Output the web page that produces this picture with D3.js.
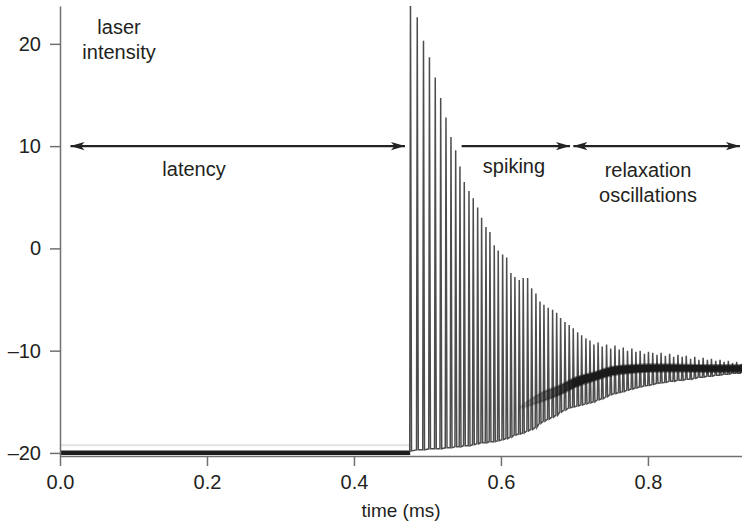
<!DOCTYPE html>
<html>
<head>
<meta charset="utf-8">
<script src="https://d3js.org/d3.v7.min.js"></script>
<style>
  body { margin: 0; background: #fff; }
  svg { font-family: "Liberation Sans", Arial, Helvetica, sans-serif; }
  .axis path, .axis line { stroke: #707070; stroke-width: 1.5; }
  .axis text { font-size: 20px; fill: #231f20; }
  .lbl { font-size: 20px; fill: #231f20; }
</style>
</head>
<body>
<svg id="chart" width="742" height="527"></svg>
<script>
// time axis (ms) and intensity ticks
var xTicks = [0.0, 0.2, 0.4, 0.6, 0.8];
var yTicks = [20, 10, 0, -10, -20];

// flat noisy floor before the laser switches on
var baseT = [0.0, 0.4765];
var baseHi = [-19.75, -19.75];
var baseLo = [-20.2, -20.2];

// individual spikes: time, peak, trough
var spikeT = [0.4769, 0.4861, 0.4946, 0.5027, 0.5106, 0.5180, 0.5252, 0.5320, 0.5384, 0.5442,
              0.5501, 0.5565, 0.5623, 0.5683, 0.5737, 0.5796, 0.5850, 0.5909, 0.5963, 0.6023,
              0.6078, 0.6136, 0.6190, 0.6249, 0.6303, 0.6363, 0.6418, 0.6476, 0.6531, 0.6585,
              0.6643, 0.6703, 0.6758, 0.6812, 0.6871, 0.6929, 0.6984, 0.7044, 0.7098, 0.7156,
              0.7211, 0.7265, 0.7322, 0.7378, 0.7437, 0.7493, 0.7551, 0.7609, 0.7664, 0.7722,
              0.7781, 0.7836, 0.7894, 0.7952, 0.8007, 0.8065, 0.8123, 0.8179, 0.8237, 0.8295,
              0.8350, 0.8408, 0.8466, 0.8521, 0.8580, 0.8637, 0.8693, 0.8751, 0.8809, 0.8864,
              0.8922, 0.8981, 0.9036, 0.9094, 0.9151, 0.9207, 0.9266];
var spikePeak = [24.5, 22.6, 20.3, 18.7, 16.7, 14.7, 12.8, 10.9, 9.6, 8.0,
                 6.5, 5.6, 4.9, 4.0, 3.0, 2.1, 1.6, 0.3, -0.2, -0.6,
                 -0.9, -2.4, -2.8, -3.1, -2.9, -2.9, -3.9, -4.4, -5.2, -5.5,
                 -5.8, -6.0, -6.3, -6.8, -7.2, -7.5, -7.8, -8.2, -8.5, -8.8,
                 -9.0, -9.4, -9.2, -9.6, -9.4, -9.8, -9.5, -9.9, -9.7, -10.0,
                 -9.8, -10.1, -10.0, -10.3, -10.1, -10.2, -10.4, -10.2, -10.5, -10.3,
                 -10.6, -10.4, -10.6, -10.5, -10.8, -10.6, -10.9, -10.7, -10.9, -10.8,
                 -11.0, -10.9, -11.1, -11.0, -11.2, -11.1, -11.3];
var spikeTrough = [-19.8, -19.7, -19.7, -19.6, -19.6, -19.6, -19.5, -19.5, -19.4, -19.4,
                   -19.3, -19.3, -19.2, -19.1, -19.0, -19.0, -18.9, -18.9, -18.8, -18.7,
                   -18.6, -18.45, -18.25, -18.15, -18.05, -17.85, -17.7, -17.5, -17.1, -16.9,
                   -16.7, -16.5, -16.3, -16.0, -15.8, -15.6, -15.5, -15.4, -15.3, -15.2,
                   -15.1, -15.0, -14.8, -14.7, -14.5, -14.3, -14.2, -14.1, -14.0, -13.85,
                   -13.75, -13.65, -13.55, -13.45, -13.4, -13.3, -13.2, -13.15, -13.1, -13.0,
                   -13.0, -12.9, -12.9, -12.8, -12.8, -12.7, -12.6, -12.6, -12.5, -12.5,
                   -12.4, -12.4, -12.3, -12.3, -12.2, -12.2, -12.2];

// dense dark band where the trace settles
var bandT = [0.625, 0.657, 0.680, 0.703, 0.728, 0.751, 0.776, 0.803, 0.844, 0.884, 0.928];
var bandHi = [-15.5, -14.05, -13.4, -12.6, -12.1, -11.6, -11.42, -11.35, -11.37, -11.43, -11.43];
var bandLo = [-15.7, -14.95, -14.3, -13.5, -12.9, -12.4, -12.18, -12.05, -12.03, -12.07, -12.07];

// phase arrows at intensity 10
var arrowFrom = [0.0143, 0.5465, 0.6985];
var arrowTo = [0.4694, 0.694, 0.9252];
var arrowBoth = [true, false, true];
var arrowY = 10;

var svg = d3.select("#chart");
var x = d3.scaleLinear().domain([0, 0.928]).range([60, 742]);
var y = d3.scaleLinear().domain([-20.3, 23.7]).range([456, 6]);

var defs = svg.append("defs");
defs.append("clipPath").attr("id", "plot")
  .append("rect").attr("x", 60).attr("y", 6).attr("width", 682).attr("height", 450);

defs.append("marker")
    .attr("id", "head")
    .attr("markerUnits", "userSpaceOnUse")
    .attr("viewBox", "-15 -5 16 10")
    .attr("refX", 0).attr("refY", 0)
    .attr("markerWidth", 16).attr("markerHeight", 10)
    .attr("orient", "auto-start-reverse")
  .append("path")
    .attr("d", "M0,0 L-14,-4.2 L-10.5,0 L-14,4.2 Z")
    .attr("fill", "#222");

// band fades in from the left
var grad = defs.append("linearGradient").attr("id", "bandFade")
    .attr("gradientUnits", "userSpaceOnUse")
    .attr("x1", x(bandT[0])).attr("x2", x(0.70)).attr("y1", 0).attr("y2", 0);
grad.append("stop").attr("offset", 0).attr("stop-color", "#1a1a1a").attr("stop-opacity", 0.15);
grad.append("stop").attr("offset", 1).attr("stop-color", "#1a1a1a").attr("stop-opacity", 1);

var plot = svg.append("g").attr("clip-path", "url(#plot)");

// baseline before switch-on
var base = baseT.map(function(t, i) { return {t: t, hi: baseHi[i], lo: baseLo[i]}; });
plot.append("path")
    .datum(base)
    .attr("fill", "none").attr("stroke", "#e2e2e2").attr("stroke-width", 2)
    .attr("d", d3.line().x(function(d) { return x(d.t); }).y(function(d) { return y(d.hi + 0.5); }));
plot.append("path")
    .datum(base)
    .attr("fill", "#1e1e1e")
    .attr("d", d3.area().x(function(d) { return x(d.t); })
      .y0(function(d) { return y(d.lo); }).y1(function(d) { return y(d.hi); }));

// spike train
var pts = [[baseT[1], -19.9]];
spikeT.forEach(function(t, i) {
  pts.push([t - 0.0010, spikeTrough[i]]);
  pts.push([t, spikePeak[i]]);
  pts.push([t + 0.0014, spikeTrough[i]]);
});
plot.append("path")
    .datum(pts)
    .attr("fill", "none")
    .attr("stroke", "#4d4d4d")
    .attr("stroke-width", 1.5)
    .attr("stroke-linejoin", "miter")
    .attr("d", d3.line().x(function(d) { return x(d[0]); }).y(function(d) { return y(d[1]); }));

// dark settling band
var band = bandT.map(function(t, i) { return {t: t, hi: bandHi[i], lo: bandLo[i]}; });
var bandArea = d3.area().curve(d3.curveMonotoneX)
    .x(function(d) { return x(d.t); })
    .y0(function(d) { return y(d.lo); }).y1(function(d) { return y(d.hi); });
plot.append("path").datum(band)
    .attr("fill", "url(#bandFade)").attr("stroke", "url(#bandFade)").attr("stroke-width", 2.5)
    .attr("stroke-opacity", 0.5)
    .attr("d", bandArea);

// axes
svg.append("g").attr("class", "axis")
    .attr("transform", "translate(0,456)")
    .call(d3.axisBottom(x).tickValues(xTicks).tickFormat(d3.format(".1f"))
      .tickSize(10).tickSizeOuter(0).tickPadding(9));
svg.append("g").attr("class", "axis")
    .attr("transform", "translate(60,0)")
    .call(d3.axisLeft(y).tickValues(yTicks)
      .tickFormat(function(d) { return d < 0 ? "\u2013" + Math.abs(d) : d; })
      .tickSize(10).tickSizeOuter(0).tickPadding(9));

// arrows
arrowFrom.forEach(function(a, i) {
  svg.append("line")
      .attr("x1", x(a)).attr("x2", x(arrowTo[i]))
      .attr("y1", y(arrowY)).attr("y2", y(arrowY))
      .attr("stroke", "#222").attr("stroke-width", 2.2)
      .attr("marker-end", "url(#head)")
      .attr("marker-start", arrowBoth[i] ? "url(#head)" : null);
});

// labels
function label(txt, px, py) {
  svg.append("text").attr("class", "lbl").attr("text-anchor", "middle")
      .attr("x", px).attr("y", py).text(txt);
}
label("laser", 119, 34);
label("intensity", 119, 59);
label("latency", 194, 176);
label("spiking", 514, 173);
label("relaxation", 648, 177);
label("oscillations", 648, 202);

svg.append("text").attr("class", "lbl").attr("text-anchor", "middle")
    .style("font-size", "19px")
    .attr("x", 401).attr("y", 517).text("time (ms)");
</script>
</body>
</html>
